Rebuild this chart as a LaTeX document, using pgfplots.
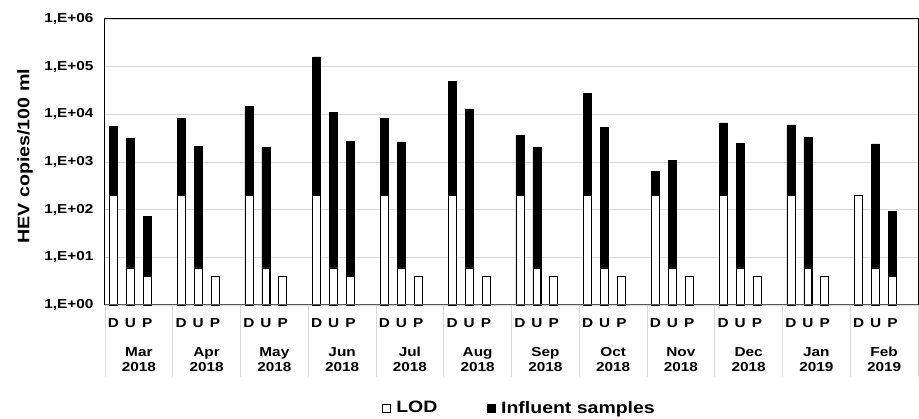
\documentclass[border=0pt]{standalone}
\usepackage{pgfplots}
\usepackage{pgfplotstable}
\pgfplotsset{compat=1.18}
\usepackage{fontspec}
\setmainfont{Liberation Sans}[FakeStretch=1.18]
\definecolor{gridgray}{HTML}{D9D9D9}
\definecolor{basegray}{HTML}{595959}
\pgfplotstableread{
x y
0 5500
1 3200
2 71
4 8200
5 2150
8 14400
9 2000
12 160000
13 11100
14 2750
16 8200
17 2650
20 50000
21 13000
24 3550
25 2030
28 27000
29 5300
32 635
33 1080
36 6600
37 2500
40 6000
41 3220
45 2400
46 93
}\influent
\pgfplotstableread{
x y
0 200
1 6
2 4
4 200
5 6
6 4
8 200
9 6
10 4
12 200
13 6
14 4
16 200
17 6
18 4
20 200
21 6
22 4
24 200
25 6
26 4
28 200
29 6
30 4
32 200
33 6
34 4
36 200
37 6
38 4
40 200
41 6
42 4
44 200
45 6
46 4
}\lod
\begin{document}
\begin{tikzpicture}
\path[use as bounding box] (-105pt,-114pt) rectangle (814pt,305pt);
\begin{axis}[
  at={(0,0)}, anchor=south west,
  scale only axis, width=813pt, height=286pt,
  ymode=log, ymin=1, ymax=1e6, xmin=-0.5, xmax=47.5,
  clip=false,
  axis line style={line width=1pt},
  ytick={1,10,100,1000,10000,100000,1000000},
  yticklabels={{1,E+00},{1,E+01},{1,E+02},{1,E+03},{1,E+04},{1,E+05},{1,E+06}},
  yminorticks=false,
  ymajorgrids, grid style={gridgray, line width=0.8pt},
  major tick length=0pt,
  yticklabel style={font=\fontsize{13}{15}\selectfont\bfseries, anchor=east, xshift=-8pt},
  xtick={0,1,2,4,5,6,8,9,10,12,13,14,16,17,18,20,21,22,24,25,26,28,29,30,32,33,34,36,37,38,40,41,42,44,45,46},
  xticklabels={D,U,P,D,U,P,D,U,P,D,U,P,D,U,P,D,U,P,D,U,P,D,U,P,D,U,P,D,U,P,D,U,P,D,U,P},
  xticklabel style={font=\fontsize{13}{15}\selectfont\bfseries, yshift=-10pt},
  extra x ticks={1.5,5.5,9.5,13.5,17.5,21.5,25.5,29.5,33.5,37.5,41.5,45.5},
  extra x tick labels={{Mar\\2018},{Apr\\2018},{May\\2018},{Jun\\2018},{Jul\\2018},{Aug\\2018},{Sep\\2018},{Oct\\2018},{Nov\\2018},{Dec\\2018},{Jan\\2019},{Feb\\2019}},
  extra x tick style={grid=none, major tick length=0pt,
    tick label style={align=center, font=\fontsize{13}{17}\selectfont\bfseries, yshift=-29pt}},
  ylabel={HEV copies/100 ml},
  ylabel style={at={(axis description cs:-0.0984,0.52)}, anchor=center, font=\fontsize{16.7}{18}\selectfont\bfseries},
  legend style={at={(0.51,-0.36)}, anchor=center, draw=none, legend columns=2,
    font=\fontsize{16.5}{18}\selectfont\bfseries,
    /tikz/every odd column/.append style={column sep=3pt},
    /tikz/every even column/.append style={column sep=48pt}},
  legend image code/.code={\draw[#1, line width=0.8pt] (0pt,-4pt) rectangle (8pt,4pt);},
]
\addlegendimage{fill=white, draw=black}\addlegendentry{LOD}
\addlegendimage{fill=black, draw=black}\addlegendentry{Influent samples}
\addplot[ybar, bar width=0.47, fill=black, draw=black, line width=0.6pt, forget plot] table[x=x, y=y] {\influent};
\addplot[ybar, bar width=0.47, fill=white, draw=black, line width=0.8pt, forget plot] table[x=x, y=y] {\lod};
\pgfplotsinvokeforeach{0,...,12}{
  \draw[gridgray, line width=0.8pt] (axis cs:{4*#1-0.5},1) -- ++(0pt,-72pt);
}
\draw[basegray, line width=1pt] (rel axis cs:0,0) -- (rel axis cs:1,0);
\end{axis}
\end{tikzpicture}
\end{document}
